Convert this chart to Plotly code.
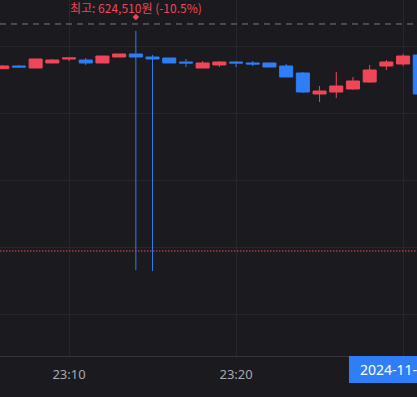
import plotly.graph_objects as go

times = ["2024-11-06 23:%02d" % m for m in range(6, 32)]
opens = [613220, 614030, 613430, 614930, 616120, 615820, 614930, 616720, 617610, 616720,
         616420, 615220, 613430, 614330, 615220, 614930, 614930, 614030, 611940, 605670,
         606270, 607170, 609250, 614030, 614630, 617310]
highs = [614330, 614330, 616120, 616120, 616420, 616420, 617010, 617610, 624510, 617310,
         616420, 616120, 615520, 615520, 615520, 615520, 614930, 614630, 612240, 608060,
         612240, 610750, 614330, 615820, 617610, 617310]
lows = [613130, 613730, 613430, 614930, 615520, 614330, 614930, 616720, 553140, 552840,
        614930, 613730, 613430, 613730, 613730, 614030, 613730, 610750, 605970, 603280,
        604480, 606870, 608960, 612840, 614030, 605670]
closes = [614030, 613730, 616120, 615820, 616420, 614930, 617010, 617610, 616720, 616120,
          614930, 614930, 614930, 615220, 614930, 614630, 613730, 610750, 606270, 606570,
          608060, 609550, 612840, 615220, 617010, 605670]

tick_vals = ["2024-11-06 23:10", "2024-11-06 23:20", "2024-11-06 23:30"]
tick_text = ["23:10", "23:20", ""]

high_label = "최고: 624,510원 (-10.5%)"
high_time = "2024-11-06 23:14"
marker_price = 628660
dashed_level = 626570
dotted_level = 558810
cross_label = "2024-11-"

RED = "#F04659"
BLUE = "#2F7EF5"
BG = "#1A1A1F"
GRID = "#26262C"

fig = go.Figure()
fig.add_trace(go.Candlestick(
    x=times, open=opens, high=highs, low=lows, close=closes,
    increasing=dict(line=dict(color=RED, width=1), fillcolor=RED),
    decreasing=dict(line=dict(color=BLUE, width=1), fillcolor=BLUE),
    whiskerwidth=0, hoverinfo="skip", showlegend=False,
))
fig.add_trace(go.Scatter(
    x=[high_time], y=[marker_price], mode="markers",
    marker=dict(symbol="diamond", size=5, color=RED),
    hoverinfo="skip", showlegend=False, cliponaxis=False,
))

fig.add_hline(y=dashed_level, line=dict(color="#7A7A80", width=1, dash="6px,5px"))
fig.add_hline(y=dotted_level, line=dict(color=RED, width=1.2, dash="1.5px,1.5px"))

fig.add_annotation(
    x=high_time, xref="x", y=1 + 2 / 356, yref="paper", text=high_label,
    showarrow=False, xanchor="center", yanchor="top", borderpad=0,
    font=dict(color=RED, size=12, family="Noto Sans CJK KR, Noto Sans, sans-serif"),
)

fig.add_shape(type="rect", xref="paper", yref="paper",
              x0=349 / 417, x1=1.1, y0=1 - 383 / 356, y1=1 - 356 / 356,
              fillcolor=BLUE, line=dict(width=0), layer="above")
fig.add_annotation(
    x=358 / 417, xref="paper", y=1 - 369.5 / 356, yref="paper", text=cross_label,
    showarrow=False, xanchor="left", yanchor="middle",
    font=dict(color="#FFFFFF", size=14, family="Noto Sans, sans-serif"),
)

fig.update_layout(
    width=417, height=397,
    margin=dict(l=0, r=0, t=0, b=41),
    paper_bgcolor=BG, plot_bgcolor=BG,
    boxgap=0.22, boxgroupgap=0,
    xaxis=dict(
        range=["2024-11-06 23:05:52", "2024-11-06 23:30:50"],
        rangeslider=dict(visible=False),
        tickvals=tick_vals, ticktext=tick_text,
        showgrid=True, gridcolor=GRID, gridwidth=1,
        showline=True, linecolor="#34343B", linewidth=1,
        ticks="outside", ticklen=6, tickcolor=BG,
        tickfont=dict(color="#A9A9AE", size=13, family="Noto Sans, sans-serif"),
        zeroline=False, fixedrange=True,
    ),
    yaxis=dict(
        range=[527465, 633731],
        tick0=0, dtick=20000,
        showgrid=True, gridcolor=GRID, gridwidth=1,
        showticklabels=False, zeroline=False, ticks="",
    ),
)

fig.write_html("out.html")
